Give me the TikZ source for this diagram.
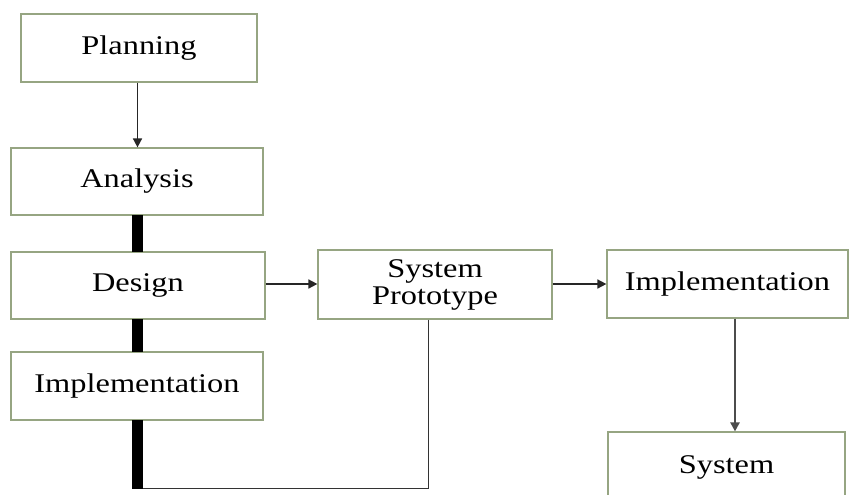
\documentclass[tikz,border=0pt]{standalone}
\usepackage{fontspec}
\setmainfont{Liberation Serif}[FakeStretch=1.2]
\usetikzlibrary{arrows.meta}
\begin{document}
\begin{tikzpicture}[x=1pt,y=-1pt,
  stage/.style={draw=boxgreen,line width=1.2pt,fill=white,inner sep=0pt,
    align=center,font=\fontsize{27}{31}\selectfont},
  flow/.style={draw=black!85,line width=1.6pt,-{Triangle[length=9pt,width=9pt]}},
  link/.style={draw=black!80,line width=1.6pt},
  bar/.style={fill=black}]
\definecolor{boxgreen}{RGB}{150,165,130}
\useasboundingbox (0,0) rectangle (851,495);
\fill[white] (0,0) rectangle (851,495);

% left column
\node[stage,minimum width=236pt,minimum height=68pt] (plan) at (139,48) {Planning};
\node[stage,minimum width=252pt,minimum height=67pt] (anal) at (137,181.5) {Analysis};
\node[stage,minimum width=254pt,minimum height=67pt] (des) at (138,285.5) {Design};
\node[stage,minimum width=252pt,minimum height=68pt] (impa) at (137,386) {Implementation};

% right part
\node[stage,minimum width=234pt,minimum height=69pt] (proto) at (435,284.5) {System\\[-4pt]Prototype};
\node[stage,minimum width=241pt,minimum height=68pt] (impb) at (727.5,284) {Implementation};
\node[stage,minimum width=237pt,minimum height=70pt] (sys) at (726.5,467) {System};

% thick bars joining the left column
\fill[bar] (132,215) rectangle (143,252);
\fill[bar] (132,319) rectangle (143,352);
\fill[bar] (132,420) rectangle (143,489);

% connectors
\draw[flow] (plan.south -| 137.5,0) -- (anal.north -| 137.5,0);
\draw[flow] (des.east |- 0,284) -- (proto.west |- 0,284);
\draw[flow] (proto.east |- 0,284) -- (impb.west |- 0,284);
\draw[flow,line width=2.2pt,draw=black!70] (impb.south -| 735,0) -- (sys.north -| 735,0);
\draw[link] (proto.south -| 428.5,0) -- (428.5,488.5) -- (143,488.5);
\end{tikzpicture}
\end{document}
